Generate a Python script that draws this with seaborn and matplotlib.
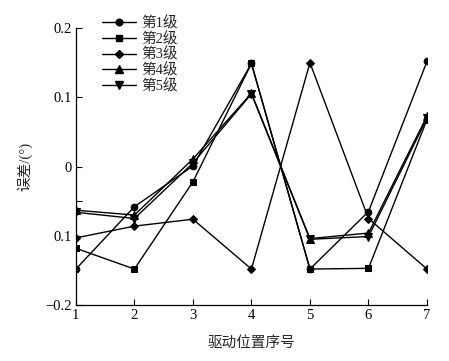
import numpy as np
import pandas as pd
import seaborn as sns
import matplotlib.pyplot as plt
from matplotlib.lines import Line2D

# data
positions = [1, 2, 3, 4, 5, 6, 7]
level_names = ['第1级', '第2级', '第3级', '第4级', '第5级']
level1 = [-0.148, -0.058, 0.001, 0.149, -0.148, -0.065, 0.152]
level2 = [-0.118, -0.148, -0.022, 0.149, -0.148, -0.147, 0.068]
level3 = [-0.103, -0.086, -0.076, -0.148, 0.150, -0.075, -0.148]
level4 = [-0.063, -0.070, 0.011, 0.106, -0.104, -0.096, 0.073]
level5 = [-0.066, -0.075, 0.005, 0.105, -0.105, -0.101, 0.070]
ytick_vals = [-0.2, -0.1, -0.05, 0, 0.1, 0.2]
ytick_text = ['\u22120.2', '0.1', '', '0', '0.1', '0.2']

markers = ['o', 's', 'D', '^', 'v']
msizes = [4.8, 4.8, 3.8, 5.2, 5.2]

df = pd.DataFrame({
    'pos': positions * 5,
    'err': level1 + level2 + level3 + level4 + level5,
    'level': [n for n in level_names for _ in positions],
})

sns.set_style('ticks')
plt.rcParams['font.family'] = ['Liberation Serif', 'Noto Sans CJK SC']
plt.rcParams['axes.unicode_minus'] = False

fig = plt.figure(figsize=(4.49, 3.61), dpi=100)
ax = fig.add_axes([0.169, 0.155, 0.782, 0.767])

for name, m, ms in zip(level_names, markers, msizes):
    sub = df[df['level'] == name]
    sns.lineplot(data=sub, x='pos', y='err', ax=ax, color='black', lw=1.0,
                 marker=m, markersize=ms, markeredgecolor='black', legend=False)

ax.set_xlim(1, 7)
ax.set_ylim(-0.2, 0.2)
ax.set_xticks(positions)
ax.set_yticks(ytick_vals)
ax.set_yticklabels(ytick_text)
ax.tick_params(direction='in', length=4, width=0.8, labelsize=10.5, colors='black', pad=3)
for s in ['top', 'right']:
    ax.spines[s].set_visible(False)
for s in ['left', 'bottom']:
    ax.spines[s].set_linewidth(0.9)
    ax.spines[s].set_color('black')

ax.set_xlabel('驱动位置序号', fontsize=10.5, labelpad=10)
ax.set_ylabel('误差/(°)', fontsize=10.5, labelpad=9)

handles = [Line2D([], [], color='black', lw=1.0, marker=m, markersize=ms)
           for m, ms in zip(markers, msizes)]
ax.legend(handles, level_names, loc='upper left', bbox_to_anchor=(0.055, 1.07),
          frameon=False, fontsize=10.5, handlelength=2.3, handletextpad=0.35,
          labelspacing=0.08, borderpad=0)

fig.savefig('out.png', dpi=100)
